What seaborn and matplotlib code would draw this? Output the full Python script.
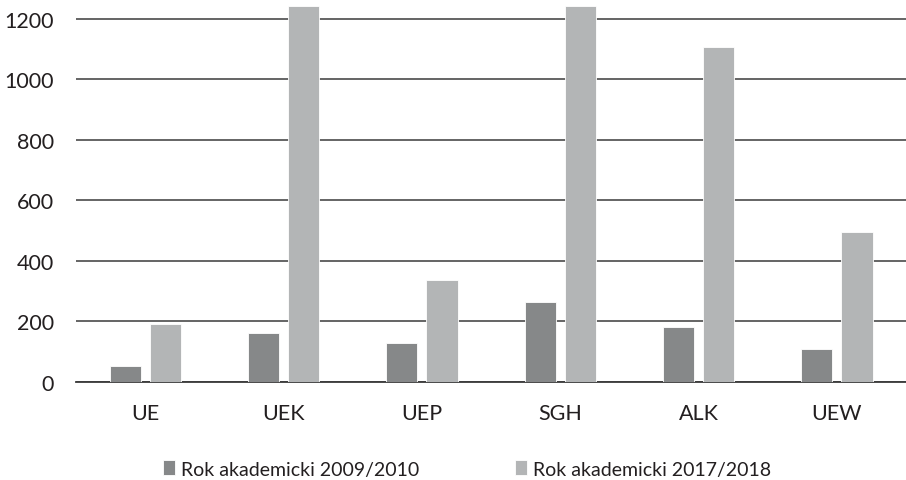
import seaborn as sns
import matplotlib.pyplot as plt
import pandas as pd

uczelnie = ["UE", "UEK", "UEP", "SGH", "ALK", "UEW"]
rok_2009 = [54, 163, 128, 263, 182, 107]
rok_2017 = [192, 1243, 337, 1241, 1106, 496]
serie = ["Rok akademicki 2009/2010", "Rok akademicki 2017/2018"]

df = pd.DataFrame({
    "uczelnia": uczelnie * 2,
    "liczba": rok_2009 + rok_2017,
    "rok": [serie[0]] * len(uczelnie) + [serie[1]] * len(uczelnie),
})

sns.set_theme(style="white")
plt.rcParams["font.family"] = ["Lato", "DejaVu Sans"]

fig = plt.figure(figsize=(9.06, 4.81), dpi=100)
ax = fig.add_axes([0.084, 0.204, 0.916, 0.796])

sns.barplot(data=df, x="uczelnia", y="liczba", hue="rok", ax=ax,
            palette=["#868889", "#b3b5b6"], width=0.58, gap=0.22,
            edgecolor="white", linewidth=0.6, zorder=3)

ax.set_ylim(0, 1265)
ax.set_yticks([0, 200, 400, 600, 800, 1000, 1200])
ax.yaxis.grid(True, color="#3a3a3a", linewidth=1.1, zorder=0)
ax.set_axisbelow(True)
for s in ["top", "right", "left"]:
    ax.spines[s].set_visible(False)
ax.spines["bottom"].set_color("#3a3a3a")
ax.spines["bottom"].set_linewidth(1.3)
ax.tick_params(axis="both", length=0, labelsize=15.5, colors="#231f20")
ax.tick_params(axis="y", pad=16)
ax.tick_params(axis="x", pad=15)
ax.set_xlabel("")
ax.set_ylabel("")

ax.legend(loc="upper center", bbox_to_anchor=(0.471, -0.19), ncol=2,
          frameon=False, fontsize=14, handlelength=0.65, handleheight=0.8,
          handletextpad=0.3, columnspacing=4.9, labelcolor="#231f20",
          borderaxespad=0, borderpad=0.3)

fig.savefig("out.png", dpi=100)
